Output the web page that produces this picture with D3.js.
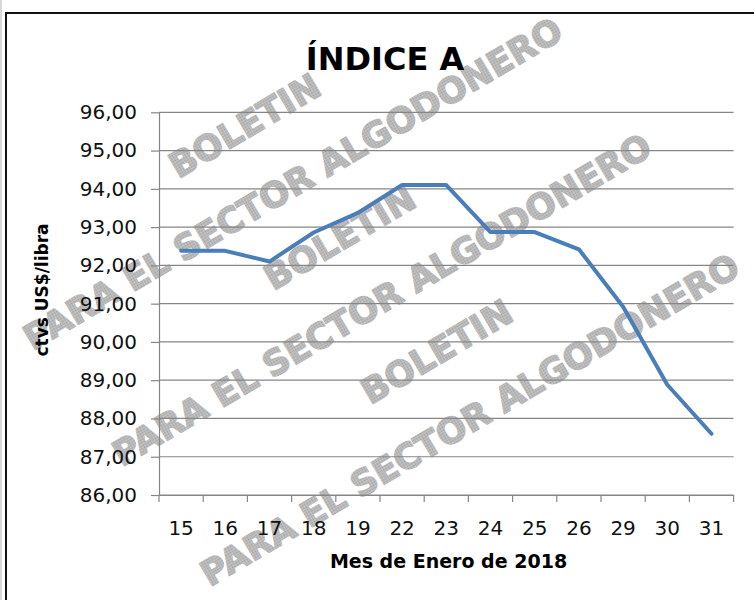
<!DOCTYPE html>
<html>
<head>
<meta charset="utf-8">
<script src="https://cdn.jsdelivr.net/npm/d3@7"></script>
<style>
  html, body { margin: 0; padding: 0; background: #fff; }
  svg { display: block; }
  text { font-family: "DejaVu Sans", sans-serif; }
</style>
</head>
<body>
<div id="chart"></div>
<script>
// Days of January 2018 on the x axis, and the index value for each day.
const days = ["15", "16", "17", "18", "19", "22", "23", "24", "25", "26", "29", "30", "31"];
const indexValues = [92.38, 92.38, 92.10, 92.86, 93.37, 94.10, 94.10, 92.87, 92.87, 92.42, 90.92, 88.88, 87.60];
const yTicks = [86, 87, 88, 89, 90, 91, 92, 93, 94, 95, 96];

const titleText = "ÍNDICE A";
const yLabelText = "ctvs US$/libra";
const xLabelText = "Mes de Enero de 2018";
const markText1 = "BOLETIN";
const markText2 = "PARA EL SECTOR ALGODONERO";

var width = 754, height = 600;

// plot area
var plotLeft = 159, plotRight = 733.6, plotTop = 112.3, plotBottom = 495;

var svg = d3.select("#chart").append("svg")
  .attr("width", width)
  .attr("height", height);

// halftone looking fill for the watermark
var defs = svg.append("defs");
var pat = defs.append("pattern")
  .attr("id", "dots")
  .attr("width", 2).attr("height", 2)
  .attr("patternUnits", "userSpaceOnUse");
pat.append("rect").attr("width", 2).attr("height", 2).attr("fill", "#cbcbcb");
pat.append("rect").attr("width", 1).attr("height", 1).attr("fill", "#a0a0a0");
pat.append("rect").attr("x", 1).attr("y", 1).attr("width", 1).attr("height", 1).attr("fill", "#aaaaaa");

// outer frame
svg.append("line")
  .attr("x1", 1).attr("x2", 1).attr("y1", 0).attr("y2", height)
  .attr("stroke", "#b0b0b0").attr("stroke-width", 1);
svg.append("rect")
  .attr("x", 6).attr("y", 13)
  .attr("width", 800).attr("height", 650)
  .attr("fill", "none")
  .attr("stroke", "#111").attr("stroke-width", 2);

// watermark, behind everything else
var marks = [
  { t: markText1, x: 245, y: 126 },
  { t: markText2, x: 293, y: 184 },
  { t: markText1, x: 340, y: 238 },
  { t: markText2, x: 382, y: 300 },
  { t: markText1, x: 437, y: 352 },
  { t: markText2, x: 470, y: 420 }
];
svg.append("g").selectAll("text")
  .data(marks)
  .enter()
  .append("text")
  .attr("transform", d => `translate(${d.x},${d.y}) rotate(-30.5)`)
  .attr("text-anchor", "middle")
  .attr("dominant-baseline", "central")
  .attr("font-size", "35px")
  .attr("font-weight", "bold")
  .attr("fill", "url(#dots)")
  .attr("stroke", "url(#dots)")
  .attr("stroke-width", 1.6)
  .attr("stroke-linejoin", "round")
  .text(d => d.t);

// scales
var x = d3.scaleBand()
  .domain(days)
  .range([plotLeft, plotRight])
  .paddingInner(0)
  .paddingOuter(0);

var y = d3.scaleLinear()
  .domain([86, 96])
  .range([plotBottom, plotTop]);

var gridColor = "#868686";
var comma = d3.formatLocale({ decimal: ",", thousands: ".", grouping: [3], currency: ["", ""] }).format(".2f");

// horizontal gridlines
svg.append("g").selectAll("line")
  .data(yTicks)
  .enter()
  .append("line")
  .attr("x1", plotLeft).attr("x2", plotRight)
  .attr("y1", d => y(d)).attr("y2", d => y(d))
  .attr("stroke", gridColor).attr("stroke-width", 1.2);

// y axis
var yAxis = svg.append("g")
  .attr("transform", `translate(${plotLeft},0)`)
  .call(d3.axisLeft(y).tickValues(yTicks).tickFormat(comma).tickSize(8).tickSizeOuter(0).tickPadding(14));
yAxis.select(".domain").attr("stroke", gridColor).attr("stroke-width", 1.2);
yAxis.selectAll(".tick line").attr("stroke", gridColor).attr("stroke-width", 1.2);
yAxis.selectAll(".tick text")
  .attr("font-family", "DejaVu Sans")
  .attr("font-size", "20px")
  .attr("fill", "#111");

// x axis: labels in the middle of each band, ticks on the band edges
var xAxis = svg.append("g")
  .attr("transform", `translate(0,${plotBottom})`)
  .call(d3.axisBottom(x).tickSize(0).tickSizeOuter(0).tickPadding(26));
xAxis.select(".domain").attr("stroke", gridColor).attr("stroke-width", 1.2);
xAxis.selectAll(".tick text")
  .attr("font-family", "DejaVu Sans")
  .attr("font-size", "20px")
  .attr("fill", "#111");

var edges = days.map(d => x(d)).concat([plotRight]);
xAxis.append("g").selectAll("line")
  .data(edges)
  .enter()
  .append("line")
  .attr("x1", d => d).attr("x2", d => d)
  .attr("y1", 0).attr("y2", 7)
  .attr("stroke", gridColor).attr("stroke-width", 1.2);

// the index line
var line = d3.line()
  .x((d, i) => x(days[i]) + x.bandwidth() / 2)
  .y(d => y(d));

svg.append("path")
  .datum(indexValues)
  .attr("d", line)
  .attr("fill", "none")
  .attr("stroke", "#4a7ebb")
  .attr("stroke-width", 4)
  .attr("stroke-linejoin", "round")
  .attr("stroke-linecap", "round");

// title and axis labels
svg.append("text")
  .attr("x", 385).attr("y", 70)
  .attr("text-anchor", "middle")
  .attr("font-size", "32px")
  .attr("font-weight", "bold")
  .attr("fill", "#000")
  .text(titleText);

svg.append("text")
  .attr("transform", "translate(42,290) rotate(-90)")
  .attr("text-anchor", "middle")
  .attr("dominant-baseline", "central")
  .attr("font-size", "17px")
  .attr("font-weight", "bold")
  .attr("fill", "#000")
  .text(yLabelText);

svg.append("text")
  .attr("x", 448.5).attr("y", 568)
  .attr("text-anchor", "middle")
  .attr("font-size", "19px")
  .attr("font-weight", "bold")
  .attr("fill", "#000")
  .text(xLabelText);
</script>
</body>
</html>
